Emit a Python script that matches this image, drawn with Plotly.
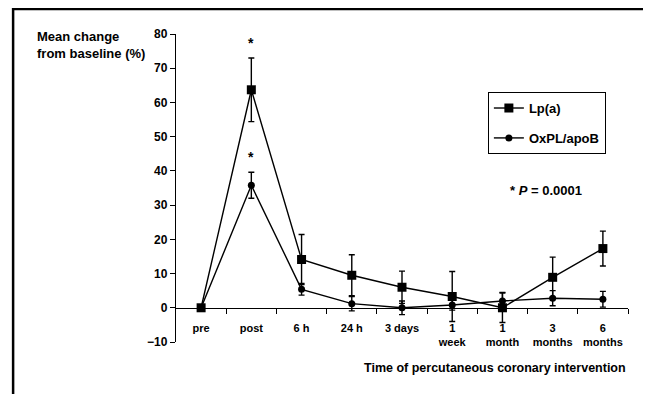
import plotly.graph_objects as go

categories = ["pre", "post", "6 h", "24 h", "3 days", "1<br>week", "1<br>month", "3<br>months", "6<br>months"]
lpa_values = [0, 63.7, 14.1, 9.5, 6.0, 3.3, 0, 8.9, 17.3]
lpa_errors = [0, 9.3, 7.3, 6.0, 4.7, 7.3, 4.3, 5.9, 5.1]
oxpl_values = [0, 35.8, 5.4, 1.2, 0, 0.8, 2.0, 2.8, 2.5]
oxpl_errors = [0, 3.8, 1.7, 2.1, 2.0, 1.5, 2.5, 2.2, 2.3]
y_ticks = [-10, 0, 10, 20, 30, 40, 50, 60, 70, 80]
x_idx = list(range(len(categories)))

FONT = "Liberation Sans, Arial, Helvetica, sans-serif"

fig = go.Figure()
fig.add_trace(go.Scatter(
    x=x_idx, y=lpa_values, name="<b>Lp(a)</b>", mode="lines+markers",
    line=dict(color="black", width=1.4),
    marker=dict(symbol="square", size=9, color="black"),
    error_y=dict(type="data", array=lpa_errors, color="black", thickness=1.4, width=3),
    legendgroup="a",
))
fig.add_trace(go.Scatter(
    x=x_idx, y=oxpl_values, name="<b>OxPL/apoB</b>", mode="lines+markers",
    line=dict(color="black", width=1.4),
    marker=dict(symbol="circle", size=7, color="black"),
    error_y=dict(type="data", array=oxpl_errors, color="black", thickness=1.4, width=3),
    legendgroup="b",
))

# page body has an 8px margin, so the figure is drawn 8px smaller and offset
fig.update_layout(
    width=643, height=386,
    margin=dict(l=168, r=23, t=26, b=52),
    paper_bgcolor="white", plot_bgcolor="white",
    font=dict(family=FONT, color="black", size=11),
    showlegend=True,
    legend=dict(x=0.69, y=0.8115, xanchor="left", yanchor="top",
                bordercolor="black", borderwidth=1, bgcolor="white",
                font=dict(size=13, family=FONT), tracegroupgap=10,
                itemwidth=30),
    xaxis=dict(
        range=[-0.5, 8.5], tickmode="array", tickvals=x_idx,
        ticktext=["<b>%s</b>" % c for c in categories],
        showline=True, linecolor="black", linewidth=1.4,
        ticks="outside", ticklen=0, tickcolor="black", tickwidth=1.4,
        anchor="free", position=1 / 9, showgrid=False, zeroline=False,
        ticklabelstandoff=10, tickfont=dict(size=11),
        minor=dict(tickmode="array", tickvals=[i + 0.5 for i in range(len(categories))],
                   ticks="outside", ticklen=5, tickcolor="black", tickwidth=1.4, showgrid=False),
    ),
    yaxis=dict(
        range=[-10, 80], tickmode="array", tickvals=y_ticks,
        ticktext=["<b>%s</b>" % ("\u221210" if v == -10 else str(v)) for v in y_ticks],
        showline=True, linecolor="black", linewidth=1.4,
        ticks="outside", ticklen=5, tickcolor="black", tickwidth=1.4,
        showgrid=False, zeroline=False, tickfont=dict(size=12),
    ),
)

annotations = [
    dict(text="<b>Mean change<br>from baseline (%)</b>", xref="paper", yref="paper",
         x=(35 - 176) / 452.3, y=(341.7 - 27) / 307.7, xanchor="left", yanchor="top",
         align="left", showarrow=False, font=dict(size=13)),
    dict(text="<b>Time of percutaneous coronary intervention</b>", xref="paper", yref="paper",
         x=1.0, y=(341.7 - 368) / 307.7, xanchor="right", yanchor="middle",
         showarrow=False, font=dict(size=12.5)),
    dict(text="<b>* <i>P</i> = 0.0001</b>", xref="paper", yref="paper",
         x=(508 - 176) / 452.3, y=(341.7 - 190) / 307.7, xanchor="left", yanchor="middle",
         showarrow=False, font=dict(size=13)),
    dict(text="<b>*</b>", x=1, y=lpa_values[1] + lpa_errors[1] + 4.5, xref="x", yref="y",
         showarrow=False, font=dict(size=14)),
    dict(text="<b>*</b>", x=1, y=oxpl_values[1] + oxpl_errors[1] + 4.5, xref="x", yref="y",
         showarrow=False, font=dict(size=14)),
]
fig.update_layout(annotations=annotations)

fig.add_shape(type="rect", xref="paper", yref="paper",
              x0=(13 - 176) / 452.3, x1=(645 - 176) / 452.3,
              y0=(341.7 - 420) / 307.7, y1=(341.7 - 9) / 307.7,
              line=dict(color="black", width=2.5), fillcolor="rgba(0,0,0,0)")

fig.write_html("out.html")
